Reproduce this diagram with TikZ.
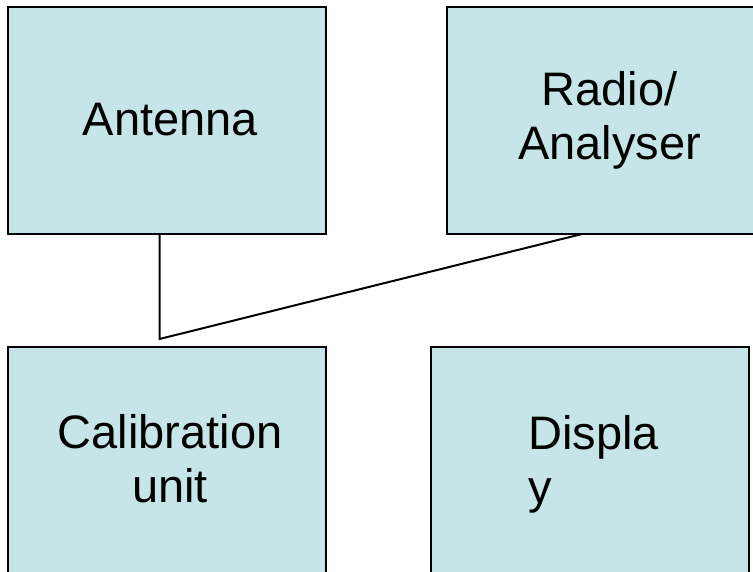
\documentclass[tikz,border=0pt]{standalone}
\usepackage{fontspec}
\setmainfont{Liberation Sans}
\definecolor{boxfill}{RGB}{198,229,232}
\begin{document}
\begin{tikzpicture}[x=1pt,y=-1pt,
  box/.style={draw=black,fill=boxfill,line width=2pt,rectangle,inner sep=0pt},
  txt/.style={inner sep=0pt,font=\fontsize{47}{54}\selectfont,text=black},
  conn/.style={draw=black,line width=2pt}]
\useasboundingbox (0,0) rectangle (753,572);
\clip (0,0) rectangle (753,572);
\fill[white] (0,0) rectangle (753,572);
% boxes
\node[box,minimum width=318pt,minimum height=227pt] (ant) at (167,120.5) {};
\node[box,minimum width=343pt,minimum height=227pt] (rad) at (618.5,120.5) {};
\node[box,minimum width=318pt,minimum height=253pt] (cal) at (167,473.5) {};
\node[box,minimum width=318pt,minimum height=253pt] (dis) at (590,473.5) {};
% texts
\node[txt,anchor=base] (antT) at (170.5,136) {Antenna};
\node[txt,anchor=base,align=center] (radT) at (609.5,160) {Radio/\\Analyser};
\node[txt,anchor=base,align=center] (calT) at (170,502) {Calibration\\unit};
\node[txt,anchor=base west,align=left] (disT) at (528,503) {Displa\\y};
% connectors
\coordinate (j) at (159.5,339);
\coordinate (rb) at (582,234);
\draw[conn] (j |- ant.south) -- (j) -- (rb);
\end{tikzpicture}
\end{document}
